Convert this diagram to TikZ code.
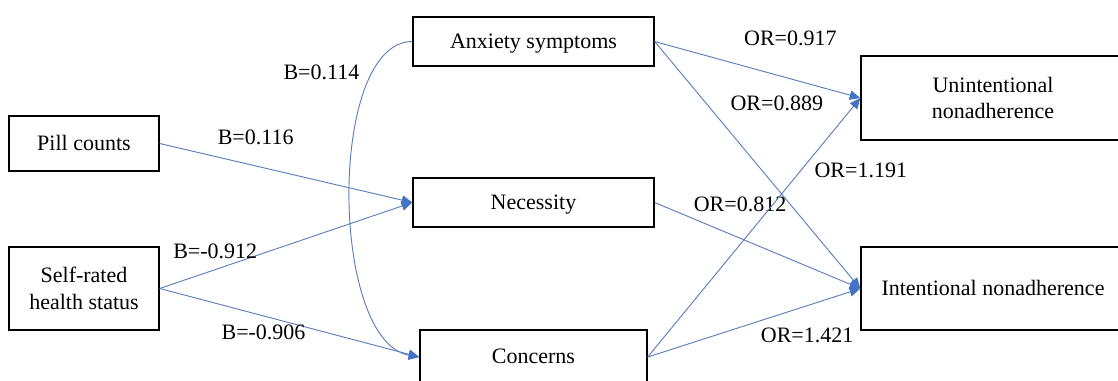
\documentclass[tikz,border=0pt]{standalone}
\usepackage{fontspec}
\setmainfont{Liberation Serif}
\usetikzlibrary{arrows.meta}
\definecolor{linkblue}{HTML}{4472C4}
\definecolor{linkline}{HTML}{5D7EBD}

\begin{document}
\begin{tikzpicture}[x=0.75pt,y=-0.75pt,>={Triangle[length=8pt,width=7pt,color=linkblue]},
                    font=\fontsize{16.5}{20}\selectfont,
                    var/.style={draw,line width=1pt,align=center,inner sep=0pt},
                    oneline/.style={var,text height=13.2pt,text depth=3.3pt},
                    link/.style={draw=linkline,line width=0.7pt,->},
                    lbl/.style={inner sep=0pt}]

  \useasboundingbox (0,0) rectangle (1118,380);

  \node[oneline,minimum width=180.75pt,minimum height=36.75pt] (anx) at (533.5,41.5) {Anxiety symptoms};
  \node[oneline,minimum width=180.75pt,minimum height=36.75pt] (nec) [below of=anx,node distance=120.75pt] {Necessity};
  \node[oneline,minimum width=170.25pt,minimum height=40.5pt]  (con) [below of=nec,node distance=115.9pt] {Concerns};
  \node[oneline,minimum width=112.5pt,minimum height=41.25pt]  (pill) at (84,143.5) {Pill counts};
  \node[var,minimum width=112.5pt,minimum height=62.25pt]      (self) at (84,288.5) {Self-rated\\health status};
  \node[var,minimum width=198pt,minimum height=63pt]           (unint) at (993,98) {Unintentional\\nonadherence};
  \node[oneline,minimum width=198pt,minimum height=62.25pt]    (inten) [below of=unint,node distance=142.9pt] {Intentional nonadherence};

  \path (pill.east) edge[link] node[lbl,pos=0.38,above=15.5pt] (bpill) {B=0.116} (nec.west)
        (self.east) edge[link] node[lbl,pos=0.22,above=8pt] (bsn) {B=-0.912} (nec.west)
                    edge[link] node[lbl,pos=0.4,below=6.7pt] (bsc) {B=-0.906} (con.west)
        (anx.east)  edge[link] node[lbl,pos=0.66,above=24.4pt] (oau) {OR=0.917} (unint.west)
                    edge[link] node[lbl,pos=0.25,right=18pt] (oai) {OR=0.889} (inten.west)
        (nec.east)  edge[link] node[lbl,pos=0.415,above=19.5pt] (oni) {OR=0.812} (inten.west)
        (con.east)  edge[link] node[lbl,pos=0.72,right=10pt] (ocu) {OR=1.191} (unint.west)
                    edge[link] node[lbl,pos=0.75,below=16.3pt] (oci) {OR=1.421} (inten.west);

  \draw[link] (anx.west) .. controls +(-85,0) and +(-90,-16) .. (con.west)
        node[lbl,pos=0.2,left=9pt] (bac) {B=0.114};
\end{tikzpicture}
\end{document}
